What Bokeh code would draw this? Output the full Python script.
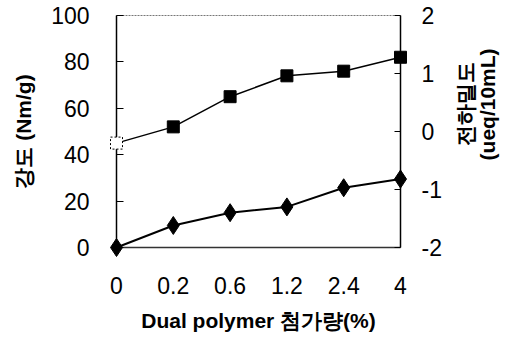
import math
from bokeh.plotting import figure
from bokeh.layouts import row
from bokeh.models import Range1d, LinearAxis, FixedTicker, Label
from bokeh.embed import file_html
from bokeh.resources import INLINE

categories = ["0", "0.2", "0.6", "1.2", "2.4", "4"]
strength = [45, 52, 65, 74, 76, 82]            # 강도 (Nm/g), left axis
charge = [-2.0, -1.62, -1.4, -1.3, -0.97, -0.82]  # 전하밀도 (ueq/10mL), right axis
left_ticks = [0, 20, 40, 60, 80, 100]
right_ticks = [-2, -1, 0, 1, 2]
right_tick_labels = ["-2", "-1", "0", "1", "2"]
right_titles = ["전하밀도", "(ueq/10mL)"]

x = list(range(len(categories)))

FONT = "Liberation Sans"
TICK_SIZE = "23px"
LABEL_SIZE = "21px"
H = 334
W1 = 444
W2 = 500 - W1

p = figure(width=W1, height=H, output_backend="svg", toolbar_location=None,
           x_range=Range1d(0, len(categories) - 1), y_range=Range1d(0, 100),
           min_border_left=116, min_border_right=43, min_border_top=15,
           min_border_bottom=85)
p.extra_y_ranges = {"right": Range1d(-2, 2)}
p.xgrid.visible = False
p.ygrid.visible = False
p.outline_line_color = "#777777"
p.outline_line_dash = "2 1"
p.outline_line_width = 1
p.background_fill_color = "white"
p.border_fill_color = "white"

# x axis
xa = p.xaxis[0]
xa.ticker = FixedTicker(ticks=x)
xa.major_label_overrides = {i: c for i, c in zip(x, categories)}
xa.major_tick_line_color = None
xa.minor_tick_line_color = None
xa.axis_line_color = "#333333"
xa.axis_line_width = 1.5
xa.major_label_standoff = 23
xa.major_label_text_font = FONT
xa.major_label_text_font_size = TICK_SIZE
xa.major_label_text_color = "black"
xa.axis_label = "Dual polymer 첨가량(%)"
xa.axis_label_text_font = FONT
xa.axis_label_text_font_style = "bold"
xa.axis_label_text_font_size = LABEL_SIZE
xa.axis_label_text_color = "black"
xa.axis_label_standoff = 12

# left axis
ya = p.yaxis[0]
ya.ticker = FixedTicker(ticks=left_ticks)
ya.major_tick_in = 7
ya.major_tick_out = 0
ya.minor_tick_line_color = None
ya.axis_line_color = "black"
ya.axis_line_width = 1.5
ya.major_label_standoff = 27
ya.major_label_text_font = FONT
ya.major_label_text_font_size = TICK_SIZE
ya.major_label_text_color = "black"
ya.axis_label = "강도 (Nm/g)"
ya.axis_label_text_font = FONT
ya.axis_label_text_font_style = "bold"
ya.axis_label_text_font_size = LABEL_SIZE
ya.axis_label_text_color = "black"
ya.axis_label_standoff = 13

# right axis with ticks
ra = LinearAxis(y_range_name="right", ticker=FixedTicker(ticks=right_ticks))
ra.major_label_overrides = {t: s for t, s in zip(right_ticks, right_tick_labels)}
ra.major_tick_in = 6
ra.major_tick_out = 0
ra.minor_tick_line_color = None
ra.axis_line_color = "black"
ra.axis_line_width = 1.5
ra.major_label_standoff = 21
ra.major_label_text_font = FONT
ra.major_label_text_font_size = TICK_SIZE
ra.major_label_text_color = "black"
p.add_layout(ra, "right")

# strength series (squares)
r1 = p.line(x, strength, line_color="black", line_width=1.5)
r2 = p.scatter(x[1:], strength[1:], marker="square", size=12,
               fill_color="black", line_color="black")
r3 = p.scatter(x[:1], strength[:1], marker="square", size=12,
               fill_color="white", line_color="black", line_dash="2 2")

# charge density series (diamonds)
r4 = p.line(x, charge, y_range_name="right", line_color="black", line_width=2)
r5 = p.scatter(x, charge, y_range_name="right", marker="diamond", size=18,
               fill_color="black", line_color="black")
for r in (r1, r2, r3, r4, r5):
    r.level = "overlay"

# right-hand title panel (two lines reading bottom-to-top)
p2 = figure(width=W2, height=H, output_backend="svg", toolbar_location=None,
            x_range=Range1d(0, W2), y_range=Range1d(0, H),
            min_border=0)
p2.axis.visible = False
p2.grid.visible = False
p2.outline_line_color = None
p2.border_fill_color = "white"
p2.background_fill_color = "white"
for txt, xpos in zip(right_titles, (21, 43)):
    p2.add_layout(Label(x=xpos, y=H - 128, text=txt, angle=90,
                        angle_units="deg", text_align="center",
                        text_baseline="middle", text_font=FONT,
                        text_font_style="bold", text_font_size=LABEL_SIZE,
                        text_color="black"))

open("out.html", "w").write(file_html(row(p, p2), INLINE))
